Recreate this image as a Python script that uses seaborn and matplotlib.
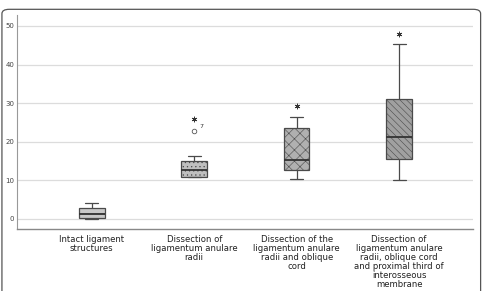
import numpy as np
import pandas as pd
import matplotlib
matplotlib.use('Agg')
import matplotlib.pyplot as plt
from matplotlib.patches import FancyBboxPatch
import seaborn as sns

# group labels (as wrapped on the x axis)
groups = [
    'Intact ligament\nstructures',
    'Dissection of\nligamentum anulare\nradii',
    'Dissection of the\nligamentum anulare\nradii and oblique\ncord',
    'Dissection of\nligamentum anulare\nradii, oblique cord\nand proximal third of\ninterosseous\nmembrane',
]

# five-number summaries (min, Q1, median, Q3, max)
intact = [0.0, 0.2, 1.3, 2.8, 4.1]
anulare = [10.8, 11.0, 12.8, 15.0, 16.4]
oblique = [10.4, 12.7, 15.2, 23.6, 26.5]
membrane = [10.1, 15.6, 21.2, 31.1, 45.2]

# outliers (circle) and extremes (asterisk)
outlier_group = [groups[1]]
outlier_vals = [22.8]
outlier_ids = ['7']
extreme_groups = [groups[1], groups[2], groups[3]]
extreme_vals = [25.8, 29.3, 47.8]

df = pd.DataFrame({
    'group': np.repeat(groups, 5),
    'value': intact + anulare + oblique + membrane,
})

sns.set_style('white')
plt.rcParams['font.family'] = ['DejaVu Sans']
plt.rcParams['hatch.linewidth'] = 0.4

fig = plt.figure(figsize=(4.84, 2.91), dpi=100)
ax = fig.add_axes([0.035, 0.213, 0.942, 0.735])

sns.boxplot(data=df, x='group', y='value', order=groups, whis=(0, 100),
            width=0.25, color='#b4b4b4', linecolor='#4a4a4a', linewidth=0.9,
            medianprops={'linewidth': 1.3, 'color': '#333333'}, ax=ax)

hatches = ['---', '....', 'xxx', '\\\\\\\\\\']
faces = ['#c8c8c8', '#bfbfbf', '#b0b0b0', '#a0a0a0']
hatch_cols = ['#a8a8a8', '#9c9c9c', '#8e8e8e', '#7a7a7a']
for patch, h, fc, hc in zip(ax.patches, hatches, faces, hatch_cols):
    patch.set_hatch(h)
    patch.set_facecolor(fc)
    try:
        patch.set_hatchcolor(hc)
    except AttributeError:
        pass

# outliers
out_df = pd.DataFrame({'group': outlier_group, 'value': outlier_vals})
sns.stripplot(data=out_df, x='group', y='value', order=groups, jitter=False,
              marker='o', size=3.3, facecolor='white', edgecolor='#555555',
              linewidth=0.6, ax=ax)
for g, v, t in zip(outlier_group, outlier_vals, outlier_ids):
    ax.text(groups.index(g) + 0.05, v + 0.6, t, fontsize=4.5, color='#333333',
            ha='left', va='bottom')

ext_df = pd.DataFrame({'group': extreme_groups, 'value': extreme_vals})
sns.stripplot(data=ext_df, x='group', y='value', order=groups, jitter=False,
              marker=(6, 2, 0), size=3.6, color='#333333', edgecolor='#333333',
              linewidth=0.6, ax=ax)

ax.set_xlim(-0.73, 3.72)
ax.set_ylim(-2.6, 52.8)
ax.set_yticks([0, 10, 20, 30, 40, 50])
ax.yaxis.grid(True, color='#dcdcdc', linewidth=0.9)
ax.set_axisbelow(True)
ax.tick_params(axis='y', labelsize=5, colors='#444444', length=0, pad=2)
ax.tick_params(axis='x', labelsize=6.1, colors='#222222', length=0, pad=4)
for lab in ax.get_xticklabels():
    lab.set_linespacing(1.0)
ax.set_xlabel('')
ax.set_ylabel('')
sns.despine(ax=ax, top=True, right=True)
ax.spines['left'].set_color('#999999')
ax.spines['left'].set_linewidth(0.8)
ax.spines['bottom'].set_color('#888888')
ax.spines['bottom'].set_linewidth(1.0)

# rounded frame around the figure (cut off at the bottom)
frame = FancyBboxPatch((0.004, -0.1), 0.989, 1.068, transform=fig.transFigure,
                       boxstyle='round,pad=0,rounding_size=0.015',
                       facecolor='none', edgecolor='#555555', linewidth=0.9)
fig.patches.append(frame)

fig.savefig('out.png', dpi=100)
